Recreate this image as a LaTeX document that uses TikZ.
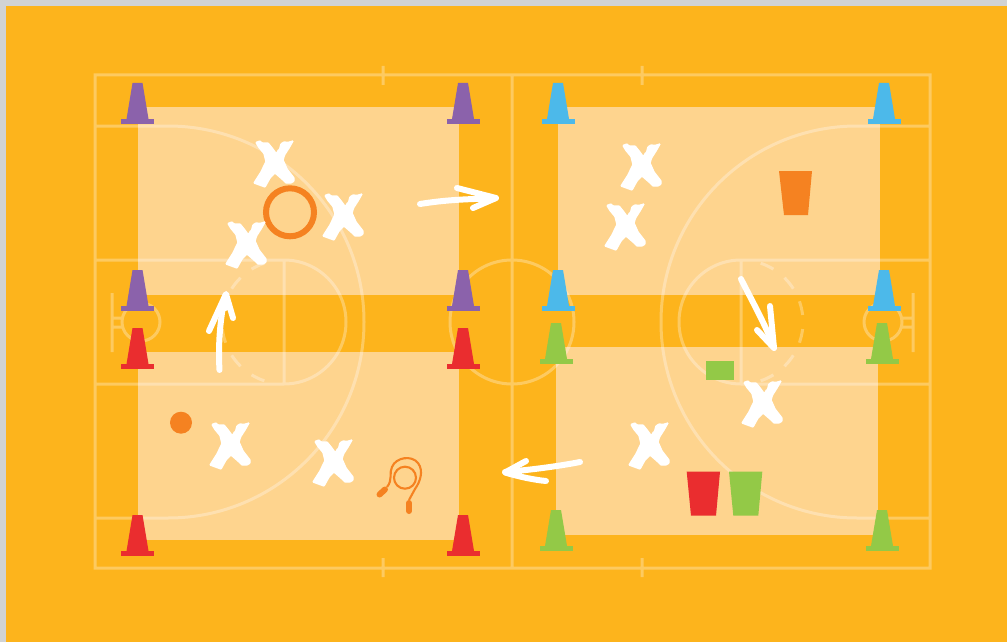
\documentclass[tikz,border=0pt]{standalone}
\usetikzlibrary{calc}
\definecolor{pagegray}{HTML}{D1D3D4}
\definecolor{floororange}{HTML}{FDB41C}
\definecolor{zonelight}{HTML}{FED48E}
\definecolor{gearorange}{HTML}{F58221}
\definecolor{conepurple}{HTML}{8B62AB}
\definecolor{coneblue}{HTML}{4CB9EA}
\definecolor{conered}{HTML}{EA2D2F}
\definecolor{conegreen}{HTML}{93C947}

\begin{document}
\begin{tikzpicture}[
  x=1pt,y=-1pt,
  zone/.style={fill=zonelight},
  courtline/.style={draw=white,opacity=0.3,line width=3pt},
  chalk/.style={draw=white,line width=6pt,line cap=round,line join=round},
  chalkhead/.style={chalk,fill=white,line width=3pt},
  rope/.style={draw=gearorange,line width=2.1pt},
  grip/.style={draw=gearorange,line width=6pt,line cap=round}
]
\useasboundingbox (0,0) rectangle (1007,642);

% floor
\fill[pagegray] (0,0) rectangle (1007,642);
\fill[floororange] (6,6) rectangle (1007,642);

% training zones
\fill[zone] (138,107) rectangle (459,295);
\fill[zone] (138,352) rectangle (459,540);
\fill[zone] (558,107) rectangle (880,295);
\fill[zone] (556,347) rectangle (878,535);

% court markings
\draw[courtline]
  (95,75) rectangle (930,568)
  (512,75) -- (512,568)
  (383,66) -- (383,85) (642,66) -- (642,85)
  (383,558) -- (383,577) (642,558) -- (642,577)
  (512,322) circle[radius=62]
  % left half
  (95,126) -- (168,126) arc[start angle=-90,end angle=90,radius=196] -- (95,518)
  (95,260) -- (284,260) arc[start angle=-90,end angle=90,radius=62] -- (95,384)
  (284,260) -- (284,384)
  (112,293) -- (112,352) (112,318) -- (122,318) (112,327) -- (122,327)
  (141,322) circle[radius=19]
  % right half
  (930,126) -- (857,126) arc[start angle=270,end angle=90,radius=196] -- (930,518)
  (930,260) -- (741,260) arc[start angle=270,end angle=90,radius=62] -- (930,384)
  (741,260) -- (741,384)
  (913,293) -- (913,352) (901,318) -- (913,318) (901,327) -- (913,327)
  (883,322) circle[radius=19];

% dashed half of the key circles
\foreach \a in {13,39,65,-13,-39,-65} {
  \draw[courtline] ($(741,322)+(\a-6.5:62)$) arc[start angle=\a-6.5,end angle=\a+6.5,radius=62];
  \draw[courtline] ($(284,322)+(180+\a-6.5:62)$) arc[start angle=180+\a-6.5,end angle=180+\a+6.5,radius=62];
}

% cones
\foreach \cc/\cx/\cy in {conepurple/137.5/83,conepurple/463/83,conepurple/137.5/270,conepurple/463/270,
    coneblue/558/83,coneblue/884/83,coneblue/558/270,coneblue/884/270,
    conered/137.5/328,conered/463/328,conered/137.5/515,conered/463/515,
    conegreen/556/323,conegreen/882/323,conegreen/556/510,conegreen/882/510} {
  \fill[\cc,shift={(\cx,\cy)}] (-5,0) -- (5,0) -- (11,36) -- (-11,36) -- cycle;
  \fill[\cc,shift={(\cx,\cy)}] (-16.5,35.5) rectangle (16.5,41);
}

% buckets and markers
\fill[gearorange] (779,171) -- (812,171) -- (808,215) -- (784,215) -- cycle;
\fill[conered] (686.7,471.7) -- (720,471.7) -- (716,515.7) -- (691,515.7) -- cycle;
\fill[conegreen] (729,471.7) -- (762.3,471.7) -- (758.3,515.7) -- (733.3,515.7) -- cycle;
\fill[conegreen] (706,361) rectangle (734,380);

% hoop and ball
\draw[gearorange,line width=6pt] (290,212.3) circle[radius=24];
\fill[gearorange] (181,422.7) circle[radius=11];

% skipping rope
\draw[rope] (387,487) .. controls (393,480) and (389,472) .. (392,467)
  .. controls (396,457) and (412,455) .. (418,463)
  .. controls (424,471) and (420,482) .. (415,489) -- (409,500);
\draw[rope] (405,477.7) circle[radius=11];
\draw[grip] (379.5,494.5) -- (385,489.5);
\draw[grip] (409,503) -- (409,511);

% players
\foreach \px/\py in {274/163,343/216,246/244,230/445,333/462,641/166,625/226,762/403,649/445} {
  \filldraw[white,line width=1.4pt,shift={(\px,\py)},rounded corners=0.6pt]
    (-18,-20.5) -- (-14,-22) -- (-12,-20) -- (-6,-20) -- (-3.5,-17) -- (-1.5,-14.5)
    -- (2.5,-9) -- (4,-12.5) -- (5.5,-13.5) -- (7,-19) -- (10,-21) -- (14,-20.5) -- (19,-22)
    -- (15,-15) -- (10.5,-8) -- (9,-3) -- (13,6) -- (20,15) -- (20,18) -- (17,20) -- (12,20)
    -- (8,16) -- (1,10) -- (-4,15) -- (-9,24) -- (-20,20) -- (-13,9) -- (-8,-1.5)
    -- (-10,-9.5) -- (-15,-15.5) -- cycle;
}

% movement arrows
\draw[chalk] (420,204) .. controls (445,200) and (465,199) .. (495,198.5);
\draw[chalk] (457,188) -- (496,198) -- (473,208);
\filldraw[chalkhead] (478,193) -- (496,198) -- (484,203) -- cycle;
\draw[chalk] (219.5,370) .. controls (218,345) and (220,320) .. (225,296);
\draw[chalk] (209,331) -- (226,294) -- (233,318);
\filldraw[chalkhead] (218,312) -- (226,294) -- (229.5,308) -- cycle;
\draw[chalk] (741,279) .. controls (750,297) and (764,322) .. (774,347);
\draw[chalk] (770,306) -- (774,348) -- (757,330);
\filldraw[chalkhead] (772,328) -- (774,348) -- (766,339) -- cycle;
\draw[chalk] (580,462) .. controls (560,466) and (530,470) .. (505,472);
\draw[chalk] (526,461) -- (505,472.5) .. controls (520,477) and (535,480) .. (546,481);
\filldraw[chalkhead] (515,467) -- (505,472.5) -- (522,476) -- cycle;
\end{tikzpicture}
\end{document}
